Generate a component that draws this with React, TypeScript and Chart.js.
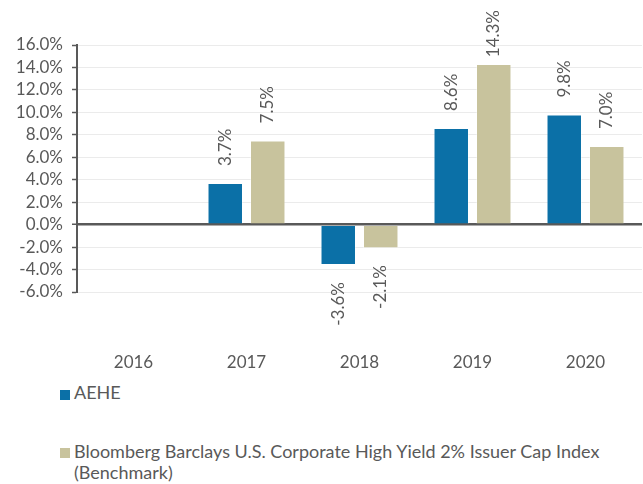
import React, { useEffect, useRef } from "react";
import { Chart, registerables } from "chart.js";

Chart.register(...registerables);

const categories = ["2016", "2017", "2018", "2019", "2020"];
const aeheValues: (number | null)[] = [null, 3.7, -3.6, 8.6, 9.8];
const benchmarkValues: (number | null)[] = [null, 7.5, -2.1, 14.3, 7.0];
const seriesNames = [
  "AEHE",
  "Bloomberg Barclays U.S. Corporate High Yield 2% Issuer Cap Index (Benchmark)",
];
const yMin = -6;
const yMax = 16;
const yStep = 2;

const BLUE = "#0b70a7";
const BEIGE = "#c8c39d";
const TEXT = "#595959";
const FONT = "Lato, 'DejaVu Sans', sans-serif";

const labelPlugin = {
  id: "barLabels",
  afterDatasetsDraw(chart: any) {
    const ctx = chart.ctx;
    ctx.save();
    ctx.font = `17px ${FONT}`;
    ctx.fillStyle = TEXT;
    ctx.textBaseline = "middle";
    chart.data.datasets.forEach((ds: any, di: number) => {
      const meta = chart.getDatasetMeta(di);
      meta.data.forEach((el: any, i: number) => {
        const v = ds.data[i];
        if (v === null || v === undefined) return;
        const text = v.toFixed(1) + "%";
        const w = ctx.measureText(text).width;
        ctx.save();
        if (v >= 0) {
          let anchor = el.y - 17;
          if (anchor - w < 10) anchor = 10 + w;
          ctx.translate(el.x, anchor);
          ctx.rotate(-Math.PI / 2);
          ctx.textAlign = "left";
        } else {
          const anchor = el.y + 17;
          ctx.translate(el.x, anchor);
          ctx.rotate(-Math.PI / 2);
          ctx.textAlign = "right";
        }
        ctx.fillText(text, 0, 0);
        ctx.restore();
      });
    });
    ctx.restore();
  },
};

export default function App() {
  const ref = useRef<HTMLCanvasElement | null>(null);
  useEffect(() => {
    document.body.style.margin = "0";
    if (!ref.current) return;
    const chart = new Chart(ref.current, {
      type: "bar",
      data: {
        labels: categories,
        datasets: [
          {
            label: seriesNames[0],
            data: aeheValues,
            backgroundColor: BLUE,
            borderColor: "rgba(255,255,255,0.35)",
            borderWidth: 1,
          },
          {
            label: seriesNames[1],
            data: benchmarkValues,
            backgroundColor: BEIGE,
            borderColor: "rgba(255,255,255,0.35)",
            borderWidth: 1,
          },
        ],
      },
      options: {
        responsive: false,
        animation: false,
        maintainAspectRatio: false,
        layout: { padding: { top: 45, right: 1, left: 0, bottom: 0 } },
        datasets: {
          bar: { categoryPercentage: 0.752, barPercentage: 0.835 },
        },
        plugins: {
          legend: { display: false },
          tooltip: { enabled: false },
        },
        scales: {
          x: {
            grid: {
              display: true,
              drawOnChartArea: false,
              drawTicks: true,
              tickLength: 60,
              tickColor: "rgba(0,0,0,0)",
            },
            border: { display: false },
            ticks: {
              color: TEXT,
              font: { family: FONT, size: 17 },
              padding: 0,
              autoSkip: false,
              maxRotation: 0,
            },
            afterFit: (axis: any) => {
              axis.height = 88;
            },
          },
          y: {
            min: yMin,
            max: yMax,
            ticks: {
              stepSize: yStep,
              autoSkip: false,
              color: TEXT,
              font: { family: FONT, size: 17 },
              padding: 9,
              callback: (v: any) => Number(v).toFixed(1) + "%",
            },
            grid: {
              color: (c: any) => (c.tick && c.tick.value === 0 ? TEXT : "#ebebeb"),
              lineWidth: (c: any) => (c.tick && c.tick.value === 0 ? 2.5 : 1),
              tickColor: TEXT,
              tickLength: 5,
              tickWidth: 1.5,
            },
            border: { display: true, color: TEXT, width: 2 },
            afterFit: (axis: any) => {
              axis.width = 77;
            },
          },
        },
      },
      plugins: [labelPlugin],
    });
    return () => chart.destroy();
  }, []);

  const legendText: React.CSSProperties = {
    position: "absolute",
    left: 74,
    fontFamily: FONT,
    fontSize: 18,
    lineHeight: "21px",
    color: TEXT,
    width: 560,
  };
  const box = (color: string, top: number): React.CSSProperties => ({
    position: "absolute",
    left: 60,
    top,
    width: 10,
    height: 10,
    background: color,
  });

  return (
    <div style={{ position: "relative", width: 643, height: 484 }}>
      <canvas ref={ref} width={643} height={380} style={{ display: "block" }} />
      <div style={box(BLUE, 390)} />
      <div style={{ ...legendText, top: 382 }}>{seriesNames[0]}</div>
      <div style={box(BEIGE, 448)} />
      <div style={{ ...legendText, top: 441 }}>{seriesNames[1]}</div>
    </div>
  );
}
